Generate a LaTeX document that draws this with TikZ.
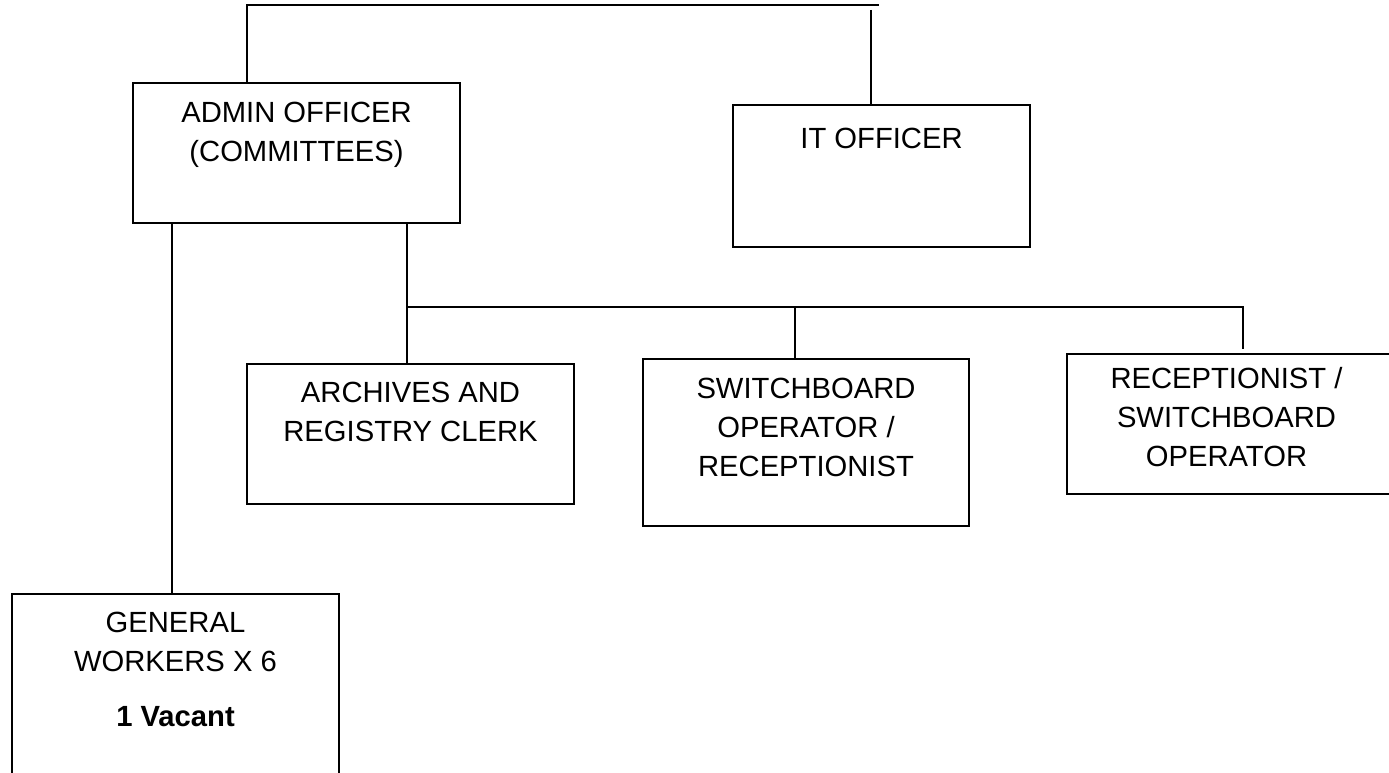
\documentclass[tikz,border=0pt]{standalone}
\usepackage{fontspec}
\setmainfont{Liberation Sans}
\begin{document}
\begin{tikzpicture}[x=1pt,y=-1pt,
  box/.style={draw=black, line width=2pt, rectangle, inner sep=0pt},
  lbl/.style={align=center, inner sep=0pt, anchor=base, font={\fontsize{29.2pt}{39pt}\selectfont}},
  link/.style={draw=black, line width=2pt}]
\useasboundingbox (0,0) rectangle (1389,773);

% boxes (position = centre, size from corners)
\node[box, minimum width=327pt, minimum height=140pt] (admin) at (296.5,153) {};
\node[box, minimum width=297pt, minimum height=142pt] (it)    at (881.5,176) {};
\node[box, minimum width=327pt, minimum height=140pt] (arch)  at (410.5,434) {};
\node[box, minimum width=326pt, minimum height=167pt] (sw)    at (806,442.5) {};
\node[box, minimum width=328pt, minimum height=140pt] (rec)   at (1231,424) {};
\node[box, minimum width=327pt, minimum height=196pt] (gen)   at (175.5,692) {};

% labels, placed by the baseline of their last line
\node[lbl] (adminT) at (296.5,161.7) {ADMIN OFFICER\\(COMMITTEES)};
\node[lbl] (itT)    at (881.5,148.3) {IT OFFICER};
\node[lbl] (archT)  at (410.5,441.7) {ARCHIVES AND\\REGISTRY CLERK};
\node[lbl] (swT)    at (806,476.3)   {SWITCHBOARD\\OPERATOR /\\RECEPTIONIST};
\node[lbl] (recT)   at (1226.5,466.3) {RECEPTIONIST /\\SWITCHBOARD\\OPERATOR};
\node[lbl] (genT)   at (175.5,726.7) {GENERAL\\WORKERS X 6\\[16pt]\textbf{1 Vacant}};

% top line
\coordinate (topL) at (247,5);
\coordinate (topR) at (879,5);
\coordinate (itIn) at (871,10);
\draw[link] (admin.north -| topL) -- (topL) -- (topR);
\draw[link] (itIn) -- (it.north -| itIn);

% admin officer to general workers
\coordinate (leftDrop) at (172,0);
\draw[link] (admin.south -| leftDrop) -- (gen.north -| leftDrop);

% admin officer to the three clerical posts
\coordinate (bus) at (407,307);
\coordinate (busR) at (1243,307);
\coordinate (swDrop) at (795,307);
\coordinate (recEnd) at (1243,349);
\draw[link] (admin.south -| bus) -- (arch.north -| bus);
\draw[link] (bus) -- (busR) -- (recEnd);
\draw[link] (swDrop) -- (sw.north -| swDrop);
\end{tikzpicture}
\end{document}
